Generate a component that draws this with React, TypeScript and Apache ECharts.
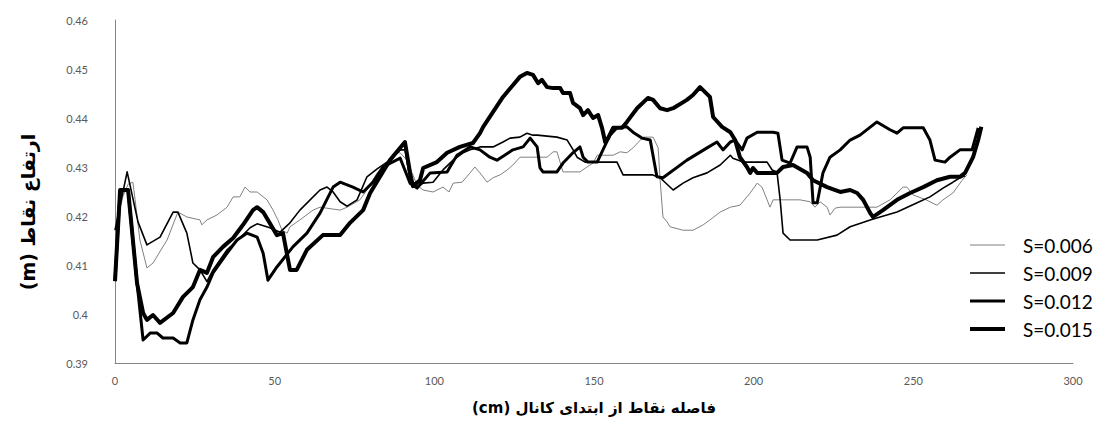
import React, { useEffect, useRef } from "react";
import * as echarts from "echarts";

// Distance from the start of the channel (cm) and water surface elevation (m)
const xTicks = [0, 50, 100, 150, 200, 250, 300];
const yTicks = [0.39, 0.4, 0.41, 0.42, 0.43, 0.44, 0.45, 0.46];

const seriesNames = ["S=0.006", "S=0.009", "S=0.012", "S=0.015"];

const s006: [number, number][] = [
  [0, 0.4171], [2.5, 0.424], [4.1, 0.4265], [5.6, 0.4269], [6.3, 0.4233], [7.8, 0.4151],
  [10.0, 0.4094], [11.9, 0.4104], [16.3, 0.4151], [19.7, 0.4208], [22.5, 0.4198],
  [26.6, 0.4192], [27.2, 0.4182], [28.8, 0.4192], [31.9, 0.4202], [35.1, 0.4218],
  [37.0, 0.4239], [39.1, 0.4239], [40.7, 0.4259], [42.3, 0.4249], [44.5, 0.4249],
  [47.6, 0.4233], [49.5, 0.4212], [51.0, 0.4192], [52.3, 0.4171], [53.9, 0.4165],
  [54.8, 0.4178], [57.9, 0.4192], [62.0, 0.4212], [64.2, 0.4218], [70.5, 0.4212],
  [72.7, 0.4218], [76.7, 0.4233], [78.9, 0.4253], [82.1, 0.4288], [85.2, 0.431],
  [87.7, 0.4329], [89.3, 0.4329], [91.4, 0.4314], [94.6, 0.4263], [96.5, 0.4253],
  [99.6, 0.4249], [102.7, 0.4259], [104.6, 0.4249], [105.9, 0.4267], [108.7, 0.4269],
  [111.2, 0.4288], [112.7, 0.43], [114.3, 0.4288], [116.5, 0.4269], [118.4, 0.4278],
  [120.6, 0.4284], [122.8, 0.4294], [124.6, 0.4304], [126.8, 0.432], [135.3, 0.432],
  [137.2, 0.4331], [138.4, 0.4331], [140.3, 0.429], [145.6, 0.429], [147.8, 0.43],
  [149.7, 0.4308], [151.0, 0.4324], [156.0, 0.4324], [158.2, 0.4331], [160.3, 0.4329],
  [162.2, 0.4339], [165.4, 0.4361], [168.5, 0.4361], [170.1, 0.4339], [170.7, 0.4273],
  [171.6, 0.4198], [172.9, 0.4188], [173.8, 0.4178], [177.9, 0.4171], [181.0, 0.4171],
  [184.2, 0.4182], [186.3, 0.4192], [189.5, 0.4208], [192.7, 0.4218], [195.7, 0.4222],
  [198.9, 0.4247], [201.1, 0.4267], [202.6, 0.4259], [204.2, 0.4233], [205.1, 0.4218],
  [206.1, 0.4233], [214.5, 0.4233], [217.7, 0.4229], [219.2, 0.4218], [220.8, 0.4229],
  [223.0, 0.4218], [223.9, 0.4202], [225.5, 0.4216], [227.1, 0.4218], [238.6, 0.4218],
  [242.7, 0.4233], [246.8, 0.4259], [248.0, 0.4259], [249.9, 0.4243], [254.0, 0.4233],
  [257.4, 0.4222], [259.3, 0.4233], [262.4, 0.4247], [265.3, 0.4273], [266.8, 0.4284],
];

const s009: [number, number][] = [
  [0, 0.4171], [3.8, 0.429], [7.2, 0.4188], [10.0, 0.4141], [14.1, 0.4157], [18.2, 0.4208],
  [19.7, 0.4208], [22.5, 0.4165], [24.4, 0.4104], [26.6, 0.409], [28.8, 0.4066],
  [30.7, 0.409], [35.1, 0.4131], [39.1, 0.4155], [42.3, 0.4176], [44.5, 0.4184],
  [48.5, 0.4176], [51.7, 0.4167], [54.8, 0.4186], [57.9, 0.4212], [61.1, 0.4233],
  [64.2, 0.4253], [66.4, 0.4259], [68.3, 0.4249], [70.5, 0.4229], [72.7, 0.422],
  [75.8, 0.4233], [78.9, 0.428], [82.1, 0.4296], [86.1, 0.4314], [89.3, 0.4335],
  [90.8, 0.4335], [92.4, 0.4273], [94.6, 0.4259], [96.5, 0.4267], [99.6, 0.4269],
  [102.7, 0.4294], [105.9, 0.4314], [109.0, 0.4329], [111.2, 0.4335], [114.3, 0.4341],
  [118.4, 0.4341], [121.5, 0.4351], [123.7, 0.4359], [126.8, 0.4361], [129.0, 0.4369],
  [130.9, 0.4365], [132.2, 0.4365], [138.4, 0.4361], [141.6, 0.4355], [143.1, 0.4339],
  [144.7, 0.432], [147.2, 0.431], [157.2, 0.431], [159.1, 0.4284], [168.2, 0.4284],
  [170.7, 0.4278], [174.8, 0.4253], [177.9, 0.4267], [181.0, 0.4278], [185.4, 0.4288],
  [189.5, 0.4304], [192.7, 0.4324], [193.5, 0.4318], [196.7, 0.431], [204.2, 0.431],
  [205.8, 0.4294], [207.3, 0.429], [208.3, 0.4233], [209.2, 0.4165], [211.4, 0.4151],
  [219.9, 0.4151], [226.1, 0.4161], [230.2, 0.4178], [236.5, 0.4192], [239.6, 0.4198],
  [244.9, 0.4208], [251.2, 0.4227], [255.2, 0.4239], [259.3, 0.4257], [262.4, 0.4269],
  [264.6, 0.4278], [266.2, 0.4282],
];

const s012: [number, number][] = [
  [0, 0.4067], [1.6, 0.4253], [4.1, 0.4253], [6.9, 0.4063], [8.8, 0.3947], [11.0, 0.3961],
  [13.2, 0.3961], [15.0, 0.3951], [18.2, 0.3951], [20.4, 0.3941], [22.5, 0.3941],
  [24.4, 0.3988], [26.6, 0.4029], [28.8, 0.4055], [30.7, 0.4084], [35.1, 0.4124],
  [38.2, 0.4151], [41.3, 0.4165], [44.5, 0.4157], [46.4, 0.4124], [47.9, 0.4069],
  [50.7, 0.4096], [55.7, 0.4137], [60.1, 0.4165], [64.2, 0.4206], [68.3, 0.4259],
  [70.5, 0.4269], [74.5, 0.4259], [77.7, 0.4249], [80.8, 0.4269], [83.9, 0.43],
  [89.3, 0.4318], [92.4, 0.4267], [94.6, 0.4257], [98.7, 0.4288], [104.0, 0.429],
  [104.9, 0.43], [107.1, 0.4324], [111.2, 0.4341], [114.3, 0.4335], [117.4, 0.432],
  [119.6, 0.4314], [124.6, 0.4335], [127.8, 0.4341], [130.0, 0.4359], [132.2, 0.4341],
  [133.1, 0.4298], [134.0, 0.429], [138.4, 0.429], [140.3, 0.4308], [143.4, 0.4329],
  [145.6, 0.4341], [146.6, 0.432], [148.1, 0.431], [151.0, 0.431], [152.8, 0.4335],
  [155.0, 0.4365], [157.2, 0.438], [160.3, 0.4382], [162.2, 0.4371], [165.0, 0.4359],
  [167.6, 0.4355], [169.7, 0.428], [171.6, 0.4278], [179.1, 0.4314], [185.4, 0.4339],
  [188.5, 0.4351], [190.4, 0.4335], [192.7, 0.4351], [194.2, 0.4355], [196.4, 0.4335],
  [197.9, 0.4359], [201.1, 0.4371], [206.1, 0.4371], [207.6, 0.4369], [208.9, 0.4314],
  [211.4, 0.4308], [213.6, 0.4341], [216.7, 0.4341], [217.7, 0.432], [218.6, 0.4227],
  [219.9, 0.4227], [221.7, 0.4288], [223.9, 0.432], [227.1, 0.4335], [230.2, 0.4355],
  [233.3, 0.4365], [238.6, 0.4392], [242.7, 0.4376], [244.9, 0.4369], [246.8, 0.438],
  [253.1, 0.438], [255.2, 0.4355], [256.8, 0.4314], [259.9, 0.431], [261.5, 0.432],
  [264.6, 0.4335], [268.4, 0.4335], [270.3, 0.438],
];

const s015: [number, number][] = [
  [0, 0.4067], [1.6, 0.4253], [4.1, 0.4253], [6.9, 0.4063], [8.8, 0.4002], [10.0, 0.3988],
  [11.9, 0.3998], [14.1, 0.3982], [18.2, 0.4002], [21.3, 0.4035], [24.4, 0.4055],
  [26.6, 0.409], [28.8, 0.4084], [30.7, 0.4116], [33.8, 0.4137], [37.0, 0.4155],
  [40.1, 0.4182], [43.2, 0.4212], [44.5, 0.4218], [46.4, 0.4208], [50.7, 0.4161],
  [52.6, 0.4165], [54.8, 0.409], [56.9, 0.409], [60.1, 0.4131], [65.1, 0.4161],
  [70.5, 0.4161], [73.6, 0.4186], [77.7, 0.4212], [79.9, 0.4247], [86.1, 0.4314],
  [90.8, 0.4351], [92.4, 0.4288], [93.3, 0.4261], [95.5, 0.4273], [96.5, 0.4298],
  [100.8, 0.431], [104.0, 0.4329], [108.0, 0.4341], [112.1, 0.4349], [114.3, 0.4369],
  [115.3, 0.4382], [121.5, 0.4443], [126.8, 0.4484], [129.0, 0.4492], [130.9, 0.4488],
  [132.5, 0.4471], [133.7, 0.4478], [135.3, 0.4463], [137.2, 0.4461], [139.4, 0.4461],
  [140.3, 0.4451], [142.5, 0.4451], [143.4, 0.4431], [145.6, 0.442], [146.6, 0.4406],
  [148.1, 0.4416], [149.7, 0.44], [151.3, 0.4406], [152.5, 0.438], [153.5, 0.4351],
  [154.4, 0.4359], [156.0, 0.438], [158.8, 0.438], [160.3, 0.4392], [163.5, 0.442],
  [166.9, 0.4441], [168.5, 0.4437], [170.7, 0.442], [172.9, 0.4416], [174.8, 0.442],
  [179.1, 0.4437], [181.0, 0.4447], [183.2, 0.4463], [186.3, 0.4443], [187.3, 0.4402],
  [190.1, 0.4382], [192.7, 0.4371], [194.2, 0.4355], [195.7, 0.432], [197.9, 0.43],
  [198.9, 0.4288], [199.8, 0.4298], [201.1, 0.4288], [207.3, 0.4288], [209.2, 0.43],
  [212.3, 0.4304], [216.7, 0.4288], [218.6, 0.4273], [223.0, 0.4259], [227.1, 0.4249],
  [230.2, 0.4253], [232.4, 0.4247], [234.3, 0.4233], [236.5, 0.4206], [237.4, 0.4198],
  [240.5, 0.4212], [244.9, 0.4233], [249.0, 0.4247], [253.1, 0.4259], [257.4, 0.4273],
  [261.5, 0.428], [264.6, 0.428], [266.2, 0.4288], [268.7, 0.432], [270.3, 0.4355],
  [271.3, 0.4382],
];

const seriesData = [s006, s009, s012, s015];
const seriesColors = ["#808080", "#000000", "#000000", "#000000"];
const seriesWidths = [1, 1.6, 3, 4];

// Right-to-left embedding keeps "(cm)" / "(m)" on the left like the original
const xAxisTitle = "\u202Bفاصله نقاط از ابتدای کانال (cm)\u202C";
const yAxisTitle = "\u202Bارتفاع نقاط (m)\u202C";

export default function App() {
  const ref = useRef<HTMLDivElement>(null);

  useEffect(() => {
    if (!ref.current) return;
    const chart = echarts.init(ref.current, undefined, { renderer: "svg" });
    const labelStyle = { color: "#595959", fontSize: 11, fontFamily: "Lato" };
    chart.setOption({
      animation: false,
      backgroundColor: "#ffffff",
      grid: { left: 115, right: 34, top: 20, bottom: 58, containLabel: false },
      xAxis: {
        type: "value",
        min: xTicks[0],
        max: xTicks[xTicks.length - 1],
        interval: 50,
        name: xAxisTitle,
        nameLocation: "middle",
        nameGap: 37,
        nameTextStyle: {
          color: "#000",
          fontSize: 15,
          fontWeight: "bold",
          fontFamily: "DejaVu Sans",
        },
        axisLine: { show: true, lineStyle: { color: "#868686", width: 1 } },
        axisTick: { show: false },
        splitLine: { show: false },
        axisLabel: { ...labelStyle, margin: 12 },
      },
      yAxis: {
        type: "value",
        min: yTicks[0],
        max: yTicks[yTicks.length - 1],
        interval: 0.01,
        axisLine: { show: true, lineStyle: { color: "#868686", width: 1 } },
        axisTick: { show: false },
        splitLine: { show: false },
        axisLabel: {
          ...labelStyle,
          margin: 27,
          formatter: (v: number) => String(+v.toFixed(2)),
        },
      },
      legend: {
        orient: "vertical",
        left: 963,
        top: 230,
        itemWidth: 35,
        itemHeight: 14,
        itemGap: 8,
        itemStyle: { opacity: 0 },
        lineStyle: { width: "inherit" },
        textStyle: {
          color: "#000",
          fontSize: 19,
          lineHeight: 20,
          fontFamily: "Lato",
          padding: [0, 0, 0, 13],
        },
        data: seriesNames,
      },
      graphic: [
        {
          type: "text",
          x: 28,
          y: 212,
          rotation: Math.PI / 2,
          style: {
            text: yAxisTitle,
            fill: "#000",
            font: "bold 19px 'DejaVu Sans'",
            align: "center",
            verticalAlign: "middle",
          },
        },
      ],
      series: seriesNames.map((name, i) => ({
        name,
        type: "line",
        data: seriesData[i],
        symbol: "none",
        showSymbol: false,
        z: 2 + i,
        lineStyle: { color: seriesColors[i], width: seriesWidths[i], join: "round" },
        itemStyle: { color: seriesColors[i] },
      })),
    });
    return () => chart.dispose();
  }, []);

  return (
    <div
      ref={ref}
      style={{
        position: "fixed",
        left: 0,
        top: 0,
        width: 1107,
        height: 421,
        background: "#fff",
      }}
    />
  );
}
